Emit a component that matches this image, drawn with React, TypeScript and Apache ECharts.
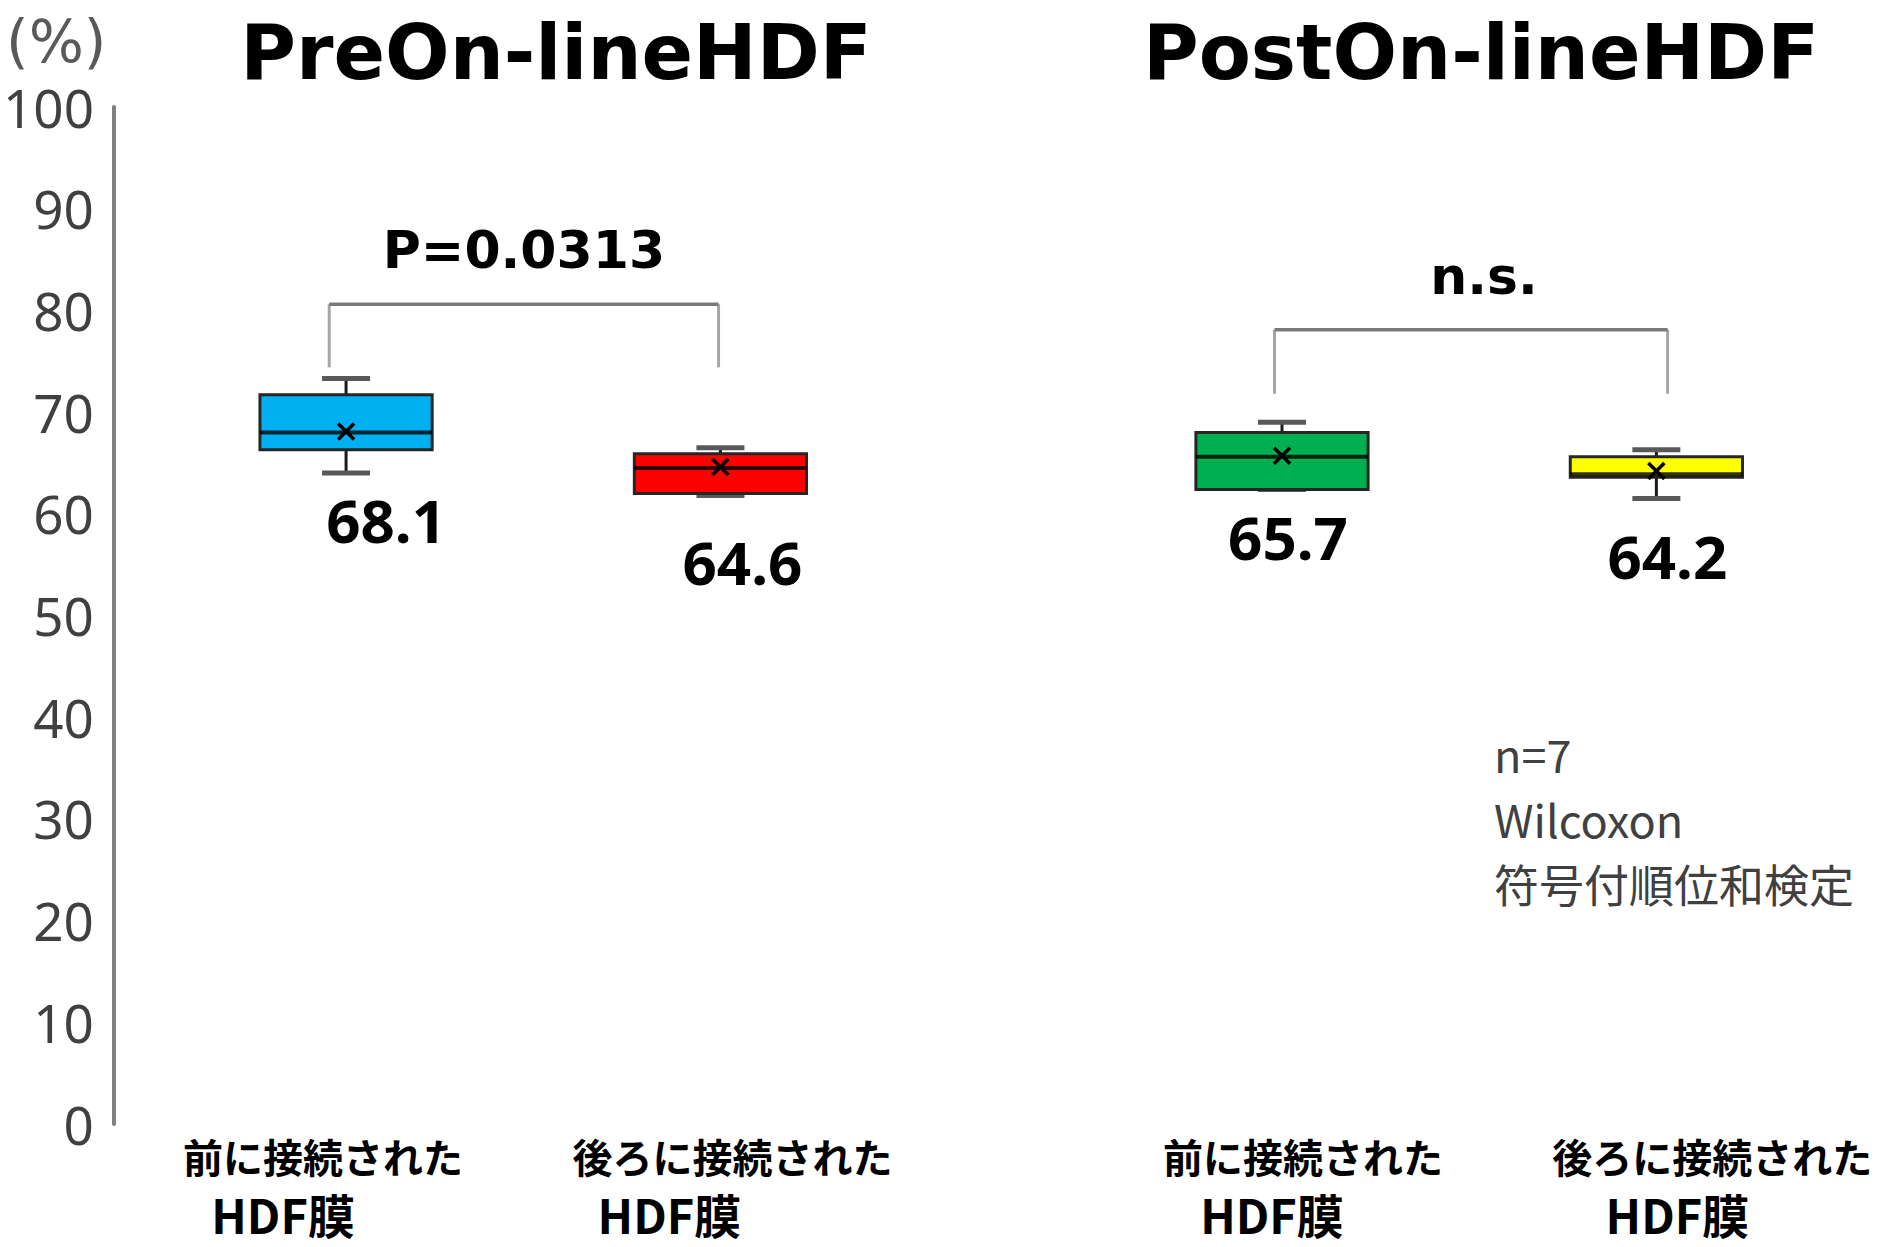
import React, { useEffect, useRef } from "react";
import * as echarts from "echarts";

// ---- data ----
const groupTitles = ["PreOn-lineHDF", "PostOn-lineHDF"];
const categoryLine1 = ["前に接続された", "後ろに接続された", "前に接続された", "後ろに接続された"];
const categoryLine2 = ["HDF膜", "HDF膜", "HDF膜", "HDF膜"];
const xPositions = [1, 2, 3.5, 4.5];
const whiskerLow = [64.0, 61.8, 62.4, 61.5];
const q1 = [66.3, 62.0, 62.4, 63.6];
const median = [68.0, 64.5, 65.6, 63.9];
const q3 = [71.7, 65.9, 68.0, 65.6];
const whiskerHigh = [73.3, 66.5, 69.0, 66.3];
const means = [68.1, 64.6, 65.7, 64.2];
const boxColors = ["#00B0F0", "#FF0000", "#00B050", "#FFFF00"];

const bracketLegX = [
  [0.955, 1.995],
  [3.48, 4.53],
];
const bracketTop = [80.6, 78.1];
const bracketBottom = [74.4, 71.8];
const bracketLabels = ["P=0.0313", "n.s."];

const noteLines = ["n=7", "Wilcoxon", "符号付順位和検定"];
const yUnit = "(%)";

// ---- layout (pixel offsets, styles) ----
const valueLabelOffsets = [
  [40, 47],
  [22, 67],
  [6, 48],
  [11, 57],
];
const bracketLabelDx = [0, 13];
const catLine1Dx = [-23, 12, 21, 56];
const catLine2Dx = [-63, -51, -10, 21];

export default function App() {
  const ref = useRef<HTMLDivElement>(null);

  useEffect(() => {
    if (!ref.current) return;
    const chart = echarts.init(ref.current, undefined, { renderer: "svg" });

    const boxData = xPositions.map((x, i) => [
      x,
      whiskerLow[i],
      q1[i],
      median[i],
      q3[i],
      whiskerHigh[i],
      means[i],
      i,
    ]);

    const bracketData = bracketLegX.map((xs, i) => [xs[0], xs[1], bracketTop[i], bracketBottom[i], i]);

    const catData = xPositions.map((x, i) => [x, 0, i]);

    const noteGraphics = noteLines.map((t, i) => ({
      type: "text",
      x: 1494,
      y: 753 + i * 65,
      style: {
        text: t,
        font: "45px 'Noto Sans CJK JP'",
        fill: "#404040",
        textAlign: "left",
        textVerticalAlign: "middle",
      },
    }));

    const option: any = {
      animation: false,
      backgroundColor: "#ffffff",
      grid: { left: 111, right: 5, top: 107, bottom: 123, containLabel: false },
      xAxis: { type: "value", min: 0.38, max: 5.1, show: false },
      yAxis: {
        type: "value",
        min: 0,
        max: 100,
        interval: 10,
        axisLine: { show: true, lineStyle: { color: "#808080", width: 4 } },
        axisTick: { show: false },
        splitLine: { show: false },
        axisLabel: {
          fontSize: 53,
          color: "#404040",
          fontFamily: "Noto Sans",
          margin: 20,
        },
      },
      graphic: [
        {
          type: "text",
          x: 556,
          y: 52,
          style: {
            text: groupTitles[0],
            font: "bold 76px 'DejaVu Sans'",
            fill: "#000",
            textAlign: "center",
            textVerticalAlign: "middle",
          },
        },
        {
          type: "text",
          x: 1481,
          y: 52,
          style: {
            text: groupTitles[1],
            font: "bold 76px 'DejaVu Sans'",
            fill: "#000",
            textAlign: "center",
            textVerticalAlign: "middle",
          },
        },
        {
          type: "text",
          x: 6,
          y: 42,
          style: {
            text: yUnit,
            font: "58px 'DejaVu Sans'",
            fill: "#595959",
            textAlign: "left",
            textVerticalAlign: "middle",
          },
        },
        ...noteGraphics,
      ],
      series: [
        {
          type: "custom",
          name: "boxes",
          clip: false,
          data: boxData,
          encode: { x: 0, y: [1, 2, 3, 4, 5] },
          renderItem: (params: any, api: any) => {
            const x = api.value(0);
            const idx = api.value(7);
            const w = api.size([0.46, 0])[0];
            const pLow = api.coord([x, api.value(1)]);
            const pQ1 = api.coord([x, api.value(2)]);
            const pMed = api.coord([x, api.value(3)]);
            const pQ3 = api.coord([x, api.value(4)]);
            const pHigh = api.coord([x, api.value(5)]);
            const pMean = api.coord([x, api.value(6)]);
            const cx = pQ1[0];
            const capHalf = 24;
            const mk = 8;
            const off = valueLabelOffsets[idx];
            return {
              type: "group",
              children: [
                {
                  type: "line",
                  shape: { x1: cx, y1: pHigh[1], x2: cx, y2: pQ3[1] },
                  style: { stroke: "#1a1a1a", lineWidth: 3 },
                },
                {
                  type: "line",
                  shape: { x1: cx, y1: pQ1[1], x2: cx, y2: pLow[1] },
                  style: { stroke: "#1a1a1a", lineWidth: 3 },
                },
                {
                  type: "line",
                  shape: { x1: cx - capHalf, y1: pHigh[1], x2: cx + capHalf, y2: pHigh[1] },
                  style: { stroke: "#595959", lineWidth: 5 },
                },
                {
                  type: "line",
                  shape: { x1: cx - capHalf, y1: pLow[1], x2: cx + capHalf, y2: pLow[1] },
                  style: { stroke: "#595959", lineWidth: 5 },
                },
                {
                  type: "rect",
                  shape: { x: cx - w / 2, y: pQ3[1], width: w, height: pQ1[1] - pQ3[1] },
                  style: { fill: boxColors[idx], stroke: "#262626", lineWidth: 3 },
                },
                {
                  type: "line",
                  shape: { x1: cx - w / 2, y1: pMed[1], x2: cx + w / 2, y2: pMed[1] },
                  style: { stroke: "rgba(0,0,0,0.8)", lineWidth: 4 },
                },
                {
                  type: "line",
                  shape: { x1: cx - mk, y1: pMean[1] - mk, x2: cx + mk, y2: pMean[1] + mk },
                  style: { stroke: "#000", lineWidth: 3.5 },
                },
                {
                  type: "line",
                  shape: { x1: cx - mk, y1: pMean[1] + mk, x2: cx + mk, y2: pMean[1] - mk },
                  style: { stroke: "#000", lineWidth: 3.5 },
                },
                {
                  type: "text",
                  x: cx + off[0],
                  y: pLow[1] + off[1],
                  style: {
                    text: means[idx].toFixed(1),
                    font: "bold 60px 'Noto Sans'",
                    fill: "#000",
                    textAlign: "center",
                    textVerticalAlign: "middle",
                  },
                },
              ],
            };
          },
        },
        {
          type: "custom",
          name: "brackets",
          clip: false,
          data: bracketData,
          encode: { x: [0, 1], y: [2, 3] },
          renderItem: (params: any, api: any) => {
            const i = api.value(4);
            const pL = api.coord([api.value(0), api.value(2)]);
            const pR = api.coord([api.value(1), api.value(2)]);
            const bL = api.coord([api.value(0), api.value(3)]);
            const bR = api.coord([api.value(1), api.value(3)]);
            return {
              type: "group",
              children: [
                {
                  type: "line",
                  shape: { x1: pL[0], y1: pL[1], x2: bL[0], y2: bL[1] },
                  style: { stroke: "#a6a6a6", lineWidth: 3 },
                },
                {
                  type: "line",
                  shape: { x1: pR[0], y1: pR[1], x2: bR[0], y2: bR[1] },
                  style: { stroke: "#a6a6a6", lineWidth: 3 },
                },
                {
                  type: "line",
                  shape: { x1: pL[0], y1: pL[1], x2: pR[0], y2: pR[1] },
                  style: { stroke: "#7a7a7a", lineWidth: 3.5 },
                },
                {
                  type: "text",
                  x: (pL[0] + pR[0]) / 2 + bracketLabelDx[i],
                  y: pL[1] - 54,
                  style: {
                    text: bracketLabels[i],
                    font: "bold 52px 'DejaVu Sans'",
                    fill: "#000",
                    textAlign: "center",
                    textVerticalAlign: "middle",
                  },
                },
              ],
            };
          },
        },
        {
          type: "custom",
          name: "categories",
          clip: false,
          data: catData,
          encode: { x: 0, y: 1 },
          renderItem: (params: any, api: any) => {
            const i = api.value(2);
            const p = api.coord([api.value(0), api.value(1)]);
            return {
              type: "group",
              children: [
                {
                  type: "text",
                  x: p[0] + catLine1Dx[i],
                  y: p[1] + 32,
                  style: {
                    text: categoryLine1[i],
                    font: "bold 40px 'Noto Sans CJK JP'",
                    fill: "#000",
                    textAlign: "center",
                    textVerticalAlign: "middle",
                  },
                },
                {
                  type: "text",
                  x: p[0] + catLine2Dx[i],
                  y: p[1] + 89,
                  style: {
                    text: categoryLine2[i],
                    font: "bold 47px 'Noto Sans CJK JP'",
                    fill: "#000",
                    textAlign: "center",
                    textVerticalAlign: "middle",
                  },
                },
              ],
            };
          },
        },
      ],
    };

    chart.setOption(option);
    return () => chart.dispose();
  }, []);

  return (
    <div
      ref={ref}
      style={{ position: "fixed", left: 0, top: 0, width: 1886, height: 1247, background: "#fff" }}
    />
  );
}
